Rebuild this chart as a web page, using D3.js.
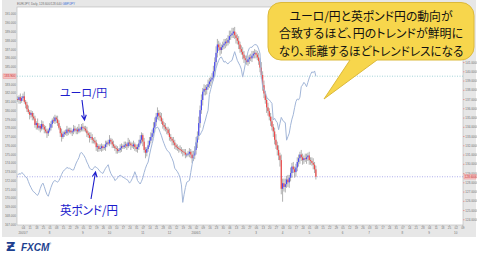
<!DOCTYPE html>
<html>
<head>
<meta charset="utf-8">
<style>
body { margin: 0; background: #fff; }
svg { display: block; }
.tiny { font-family: "Liberation Sans", sans-serif; font-size: 3px; fill: #707070; }
.jp { font-family: "Noto Sans CJK JP", sans-serif; font-feature-settings: "palt"; }
</style>
</head>
<body>
<svg id="chart" width="477" height="258"></svg>
<script src="https://d3js.org/d3.v7.min.js"></script>
<script>
// EUR/JPY daily candles (right axis)
const firstOpen = 137.0;
const eurClose = [
 136.9,137.2,136.8,137.1,137.3,136.7,136.4,135.9,135.6,135.3,
 135.5,135.1,134.9,134.2,134.4,133.9,134.1,133.8,134.3,134.0,
 133.7,133.5,133.3,133.6,133.9,134.3,134.7,134.6,135.0,134.8,
 134.4,133.9,133.3,132.9,133.2,133.4,133.3,133.7,133.5,133.6,
 133.4,133.5,133.8,133.6,133.7,133.5,133.8,133.7,134.0,133.9,
 133.8,133.6,133.3,133.1,132.8,132.9,132.6,132.5,132.3,131.8,
 131.9,131.6,131.7,131.9,131.7,131.8,132.1,132.3,132.2,132.6,
 132.4,132.1,131.9,131.7,131.6,131.4,131.5,131.7,131.9,131.8,
 132.0,132.1,131.9,132.3,132.2,132.0,131.9,132.1,131.8,131.6,
 131.8,132.2,132.6,133.1,132.4,131.5,131.2,131.6,132.0,132.5,
 132.9,133.3,133.9,134.5,135.1,135.5,135.2,135.0,134.6,134.2,
 134.0,133.8,133.7,133.3,132.9,132.7,132.5,132.3,132.0,131.8,
 131.7,131.6,131.5,131.4,131.3,131.2,131.0,131.0,131.1,131.3,
 131.0,130.6,130.9,131.5,132.3,133.0,134.4,135.8,136.9,137.8,
 138.1,138.0,138.3,138.6,138.9,139.1,139.3,140.0,141.0,142.0,
 142.9,142.6,142.3,142.6,142.8,143.0,143.2,143.1,143.4,143.8,
 143.9,144.1,144.3,143.9,143.6,143.3,142.9,142.4,142.1,141.8,
 141.4,141.2,141.0,141.3,141.5,141.4,141.7,141.9,142.0,141.8,
 141.5,141.1,140.4,139.6,138.5,137.6,136.9,136.1,135.7,135.1,
 134.6,134.0,133.5,132.6,132.0,131.5,130.9,130.4,127.3,127.9,
 127.5,127.8,128.3,128.0,128.5,129.0,129.7,129.4,129.1,129.6,
 130.2,130.6,131.0,130.7,130.4,130.6,130.5,130.7,130.9,130.4,
 130.3,130.1,129.9,129.4,128.6
];
const eurWickUp = [
 .3,.2,.4,.2,.3,.5,.2,.3,.4,.2, .3,.2,.4,.3,.2,.5,.3,.2,.4,.3,
 .2,.4,.3,.2,.5,.3,.2,.4,.3,.2, .4,.3,.2,.5,.3,.2,.3,.4,.2,.3,
 .3,.2,.4,.3,.2,.3,.5,.2,.3,.4, .2,.3,.4,.2,.3,.5,.3,.2,.4,.3,
 .3,.2,.4,.3,.2,.3,.4,.2,.3,.5, .2,.3,.4,.2,.3,.3,.2,.4,.3,.2,
 .4,.3,.2,.5,.3,.2,.3,.4,.2,.3, .3,.4,.5,.3,.2,.4,.3,.2,.5,.4,
 .5,.4,.6,.5,.4,.6,.3,.4,.5,.3, .3,.4,.2,.3,.5,.3,.2,.4,.3,.2,
 .3,.2,.4,.3,.2,.3,.4,.2,.3,.4, .3,.4,.5,.4,.6,.5,.7,.5,.6,.4,
 .5,.4,.3,.5,.4,.3,.5,.6,.5,.7, .6,.4,.5,.3,.4,.5,.3,.4,.5,.6,
 .5,.6,.4,.5,.3,.4,.5,.3,.4,.5, .4,.3,.5,.4,.3,.4,.5,.3,.4,.3,
 .4,.5,.3,.6,.4,.5,.3,.4,.5,.3, .4,.5,.3,.4,.6,.4,.5,.3,.6,.5,
 .5,.6,.4,.5,.3,.6,.4,.5,.3,.4, .5,.4,.3,.5,.4,.3,.5,.4,.3,.4,
 .3,.4,.5,.3,.4
];
const eurWickDown = [
 .2,.4,.3,.2,.3,.2,.4,.3,.2,.5, .3,.4,.2,.3,.5,.2,.3,.4,.2,.3,
 .4,.2,.5,.3,.2,.3,.4,.2,.3,.4, .3,.2,.4,.5,.2,.3,.2,.3,.4,.2,
 .2,.4,.3,.2,.4,.3,.2,.3,.2,.4, .3,.2,.4,.3,.5,.2,.4,.3,.2,.4,
 .5,.3,.2,.4,.3,.2,.4,.3,.2,.3, .3,.4,.2,.3,.5,.3,.2,.3,.4,.2,
 .2,.3,.4,.2,.3,.5,.2,.3,.4,.3, .4,.3,.2,.4,.5,.3,.6,.4,.3,.2,
 .3,.4,.3,.5,.4,.3,.5,.4,.3,.4, .4,.3,.5,.2,.4,.3,.5,.3,.4,.3,
 .3,.4,.2,.3,.5,.3,.4,.3,.2,.4, .4,.5,.3,.4,.5,.6,.4,.5,.4,.6,
 .4,.6,.5,.3,.4,.5,.4,.3,.5,.4, .5,.4,.6,.4,.3,.4,.5,.4,.3,.4,
 .4,.3,.5,.4,.6,.4,.5,.4,.3,.5, .5,.4,.3,.4,.5,.3,.4,.3,.5,.4,
 .3,.4,.5,.4,.6,.5,.4,.6,.5,.4, .5,.4,.6,.5,.4,.6,.5,.7,.6,1.4,
 .5,.6,.4,.5,.6,.4,.5,.4,.6,.5, .4,.5,.6,.4,.5,.4,.3,.5,.4,.5,
 .4,.3,.5,.4,.3
];
// GBP/JPY daily close (left axis)
const gbpClose = [
 172.6,172.8,172.7,172.9,172.8,172.6,172.4,172.3,171.9,171.5,
 171.2,170.9,170.7,170.6,170.4,170.3,170.6,171.1,171.5,171.7,
 171.3,170.8,170.4,170.2,170.7,171.2,171.6,171.9,172.0,171.9,
 171.8,172.0,172.3,172.7,173.0,173.2,173.3,173.5,173.4,173.4,
 173.3,173.2,173.2,173.6,174.0,174.3,174.6,175.1,175.2,175.0,
 174.8,174.5,174.1,173.8,173.4,173.3,173.2,173.4,173.6,173.5,
 173.4,173.2,173.0,172.9,172.8,173.1,173.4,173.6,173.8,173.2,
 172.8,172.5,172.4,172.0,172.1,172.3,172.5,172.6,172.5,172.4,
 172.3,172.2,172.1,172.0,171.7,171.9,172.2,172.5,173.0,172.6,
 172.0,171.8,171.6,171.9,172.3,172.9,173.4,173.8,174.1,174.9,
 175.6,176.2,176.8,177.8,178.0,178.1,177.9,177.5,177.1,176.6,
 176.2,175.8,175.5,175.3,175.2,174.8,174.5,174.1,173.4,173.2,
 173.0,172.7,172.3,171.5,169.5,170.4,171.2,171.8,171.9,172.0,
 172.9,173.8,174.6,175.5,176.3,177.0,177.1,177.2,177.5,177.8,
 178.4,178.9,179.5,180.0,181.8,182.4,183.0,183.5,184.0,184.8,
 185.3,185.7,186.0,186.1,185.8,185.5,185.6,185.4,185.3,185.5,
 185.6,185.7,186.2,186.7,186.2,185.7,185.4,185.1,184.7,183.8,
 184.5,185.3,186.0,186.7,187.1,187.2,187.2,187.4,187.5,187.5,
 187.4,187.0,186.5,184.0,182.7,182.4,182.1,181.5,181.3,181.2,
 181.0,180.8,178.9,179.1,178.8,178.6,177.8,178.5,179.2,178.9,
 178.7,178.6,176.6,177.0,177.4,178.3,179.0,179.5,180.3,181.0,
 181.3,181.2,181.5,182.7,182.9,183.2,183.0,182.7,183.2,183.7,
 184.1,184.4,184.3,184.5,183.9
];

const leftTicks = [167,168,169,170,171,172,173,174,175,176,177,178,179,180,181,182,183,184,185,186,187,188,189,190,191];
// labels above 141 sit under the callout in the reference
const rightTicks = [124,125,126,127,128,129,130,131,132,133,134,135,136,137,138,139,140,141];
// weekly (Monday) tick labels and month labels
const dayLabels = ["04","11","18","25","01","08","15","22","29","05","12","19","26","03","10","17","24","31",
 "07","14","21","28","05","12","19","26","02","09","16","23","30","06","13","20","27","06","13","20","27",
 "03","10","17","24","01","08","15","22","29","05","12","19","26","03","10","17","24","31",
 "07","14","21","28","04","11","18","25","02","09"];
const monthLabels = ["2005/7","8","9","10","11","12","2006/1","2","3","4","5","6","7","8","9","10"];

const svg = d3.select("#chart");
const plot = {l: 17, r: 463, t: 7, b: 225};
const nBars = 335;

const x = d3.scaleLinear().domain([0, nBars]).range([plot.l, plot.r]);
const yR = d3.scaleLinear().domain([124, 147]).range([219.3, 6.55]);
const yL = d3.scaleLinear().domain([167, 191]).range([224.3, 14]);

// frame
svg.append("rect").attr("x", 2).attr("y", 0).attr("width", 474).attr("height", 237).attr("fill", "#e7e7e7");
svg.append("rect").attr("x", plot.l).attr("y", plot.t).attr("width", plot.r - plot.l).attr("height", plot.b - plot.t)
  .attr("fill", "#fff").attr("stroke", "#b4b4b4").attr("stroke-width", 0.6);

// title
const title = svg.append("text").attr("class", "tiny").attr("x", 17).attr("y", 4.6).attr("fill", "#555");
title.append("tspan").text("EUR/JPY, Daily, 128.600/128.640 ");
title.append("tspan").attr("fill", "#3a6fd8").text("GBP/JPY");

// current value lines
const lastGbp = gbpClose[gbpClose.length - 1];
const lastEur = eurClose[eurClose.length - 1];
svg.append("line").attr("x1", plot.l).attr("x2", plot.r).attr("y1", yL(lastGbp)).attr("y2", yL(lastGbp))
  .attr("stroke", "#8ec9cf").attr("stroke-width", 0.8).attr("stroke-dasharray", "1,1.5");
svg.append("line").attr("x1", plot.l).attr("x2", plot.r).attr("y1", yR(lastEur)).attr("y2", yR(lastEur))
  .attr("stroke", "#9a9ae8").attr("stroke-width", 0.8).attr("stroke-dasharray", "1,1.5");

// candles
const bars = eurClose.map((c, i) => {
  const o = i ? eurClose[i - 1] : firstOpen;
  return {i, o, c, h: Math.max(o, c) + eurWickUp[i], l: Math.min(o, c) - eurWickDown[i]};
});
const cg = svg.append("g");
cg.selectAll("line").data(bars).join("line")
  .attr("x1", d => x(d.i + 0.5)).attr("x2", d => x(d.i + 0.5))
  .attr("y1", d => yR(d.h)).attr("y2", d => yR(d.l))
  .attr("stroke", "#b0b0b0").attr("stroke-width", 1);
cg.selectAll("rect").data(bars).join("rect")
  .attr("x", d => x(d.i + 0.5) - 0.6).attr("width", 1.2)
  .attr("y", d => yR(Math.max(d.o, d.c)))
  .attr("height", d => Math.max(0.8, Math.abs(yR(d.o) - yR(d.c))))
  .attr("fill", d => d.c >= d.o ? "#4a4af0" : "#f04848");

// GBP/JPY line
svg.append("path").datum(gbpClose)
  .attr("fill", "none").attr("stroke", "#a2b6d8").attr("stroke-width", 1)
  .attr("d", d3.line().x((d, i) => x(i + 0.5)).y(d => yL(d)));

// left axis
const la = svg.append("g").attr("transform", `translate(${plot.l},0)`)
  .call(d3.axisLeft(yL).tickValues(leftTicks).tickFormat(d3.format(".3f")).tickSize(0).tickPadding(1.2));
la.select(".domain").remove();
la.selectAll("text").attr("class", "tiny").attr("font-size", null).attr("fill", null);

// right axis
const ra = svg.append("g").attr("transform", `translate(${plot.r},0)`)
  .call(d3.axisRight(yR).tickValues(rightTicks).tickFormat(d3.format(".4f")).tickSize(1.5).tickPadding(0.8));
ra.select(".domain").remove();
ra.selectAll("line").attr("stroke", "#e07070").attr("stroke-width", 0.6);
ra.selectAll("text").attr("class", "tiny").attr("font-size", null).attr("fill", null);

// value markers on axes
function marker(xPos, yPos, w, label, anchor) {
  svg.append("rect").attr("x", xPos).attr("y", yPos - 2.3).attr("width", w).attr("height", 4.6)
    .attr("fill", "#f6c2c2").attr("stroke", "#e88").attr("stroke-width", 0.4);
  svg.append("text").attr("class", "tiny").attr("x", anchor === "end" ? xPos + w - 0.8 : xPos + 0.8)
    .attr("y", yPos + 1.1).attr("text-anchor", anchor).style("fill", "#c03030").text(label);
}
marker(3, yL(lastGbp), 13, d3.format(".3f")(lastGbp), "end");
marker(464, yR(lastEur), 12, d3.format(".4f")(lastEur), "start");

// bottom axis
const weekBars = dayLabels.map((d, k) => 4 + 5 * k);
const xa = svg.append("g").attr("transform", `translate(0,${plot.b})`)
  .call(d3.axisBottom(x).tickValues(weekBars.map(b => b + 0.5)).tickFormat((d, k) => dayLabels[k]).tickSize(1.2).tickPadding(0.8));
xa.select(".domain").remove();
xa.selectAll("line").attr("stroke", "#999").attr("stroke-width", 0.5);
xa.selectAll("text").attr("class", "tiny").attr("font-size", null).attr("fill", null);

let m = 0;
dayLabels.forEach((d, k) => {
  if (k === 0 || +d < +dayLabels[k - 1]) {
    svg.append("text").attr("class", "tiny").attr("x", x(weekBars[k] + 0.5)).attr("y", 234)
      .attr("text-anchor", "middle").text(monthLabels[m++]);
  }
});

// annotations
const blue = "#1c1ccc";
svg.append("text").attr("class", "jp").attr("x", 60).attr("y", 97).attr("font-size", 11)
  .attr("textLength", 47).attr("lengthAdjust", "spacingAndGlyphs").attr("fill", blue).text("ユーロ/円");
svg.append("text").attr("class", "jp").attr("x", 60).attr("y", 215).attr("font-size", 12)
  .attr("textLength", 58).attr("lengthAdjust", "spacingAndGlyphs").attr("fill", blue).text("英ポンド/円");

function arrow(x1, y1, x2, y2) {
  const a = Math.atan2(y2 - y1, x2 - x1), h = 5.5;
  const p = d3.path();
  p.moveTo(x1, y1); p.lineTo(x2, y2);
  p.moveTo(x2 - h * Math.cos(a - 0.45), y2 - h * Math.sin(a - 0.45)); p.lineTo(x2, y2);
  p.lineTo(x2 - h * Math.cos(a + 0.45), y2 - h * Math.sin(a + 0.45));
  svg.append("path").attr("d", p.toString()).attr("fill", "none").attr("stroke", blue).attr("stroke-width", 1.1);
}
arrow(82, 100, 84.5, 120);
arrow(91, 199, 95.5, 172);

// callout
const c = {x0: 268, x1: 474, y0: 2.5, y1: 60, r: 13};
const cp = d3.path();
cp.moveTo(c.x0 + c.r, c.y0);
cp.lineTo(c.x1 - c.r, c.y0); cp.arcTo(c.x1, c.y0, c.x1, c.y0 + c.r, c.r);
cp.lineTo(c.x1, c.y1 - c.r); cp.arcTo(c.x1, c.y1, c.x1 - c.r, c.y1, c.r);
cp.lineTo(377, c.y1); cp.lineTo(324, 99); cp.lineTo(350, c.y1);
cp.lineTo(c.x0 + c.r, c.y1); cp.arcTo(c.x0, c.y1, c.x0, c.y1 - c.r, c.r);
cp.lineTo(c.x0, c.y0 + c.r); cp.arcTo(c.x0, c.y0, c.x0 + c.r, c.y0, c.r);
cp.closePath();
svg.append("path").attr("d", cp.toString()).attr("fill", "#f7d64c").attr("stroke", "#dcb93a").attr("stroke-width", 1);

const calloutLines = ["ユーロ/円と英ポンド円の動向が", "合致するほど、円のトレンドが鮮明に", "なり、乖離するほどトレンドレスになる"];
const calloutWidths = [163, 184, 185];
svg.selectAll(".cl").data(calloutLines).join("text").attr("class", "jp cl")
  .attr("x", 0).attr("y", 0).attr("text-anchor", "middle")
  .attr("font-size", 12).attr("fill", "#111").text(d => d)
  .attr("transform", function(d, i) {
    const len = this.getComputedTextLength();
    const sx = Math.min(1, calloutWidths[i] / len);
    return `translate(371,${20.5 + i * 17.5}) scale(${sx.toFixed(3)},1)`;
  });

// logo
const logo = svg.append("g").attr("transform", "translate(6,251)");
logo.append("text").attr("x", 0).attr("y", 0).attr("font-family", "DejaVu Sans").attr("font-weight", "bold")
  .attr("font-size", 13).attr("fill", "#1d3f8f").text("Ƶ");
logo.append("text").attr("x", 15).attr("y", -0.5).attr("font-family", "Liberation Sans").attr("font-weight", "bold")
  .attr("font-style", "italic").attr("font-size", 10).attr("fill", "#1d3f8f").text("FXCM");
logo.append("text").attr("x", 43).attr("y", -6).attr("font-family", "Liberation Sans").attr("font-size", 3)
  .attr("fill", "#1d3f8f").text("®");
</script>
</body>
</html>
